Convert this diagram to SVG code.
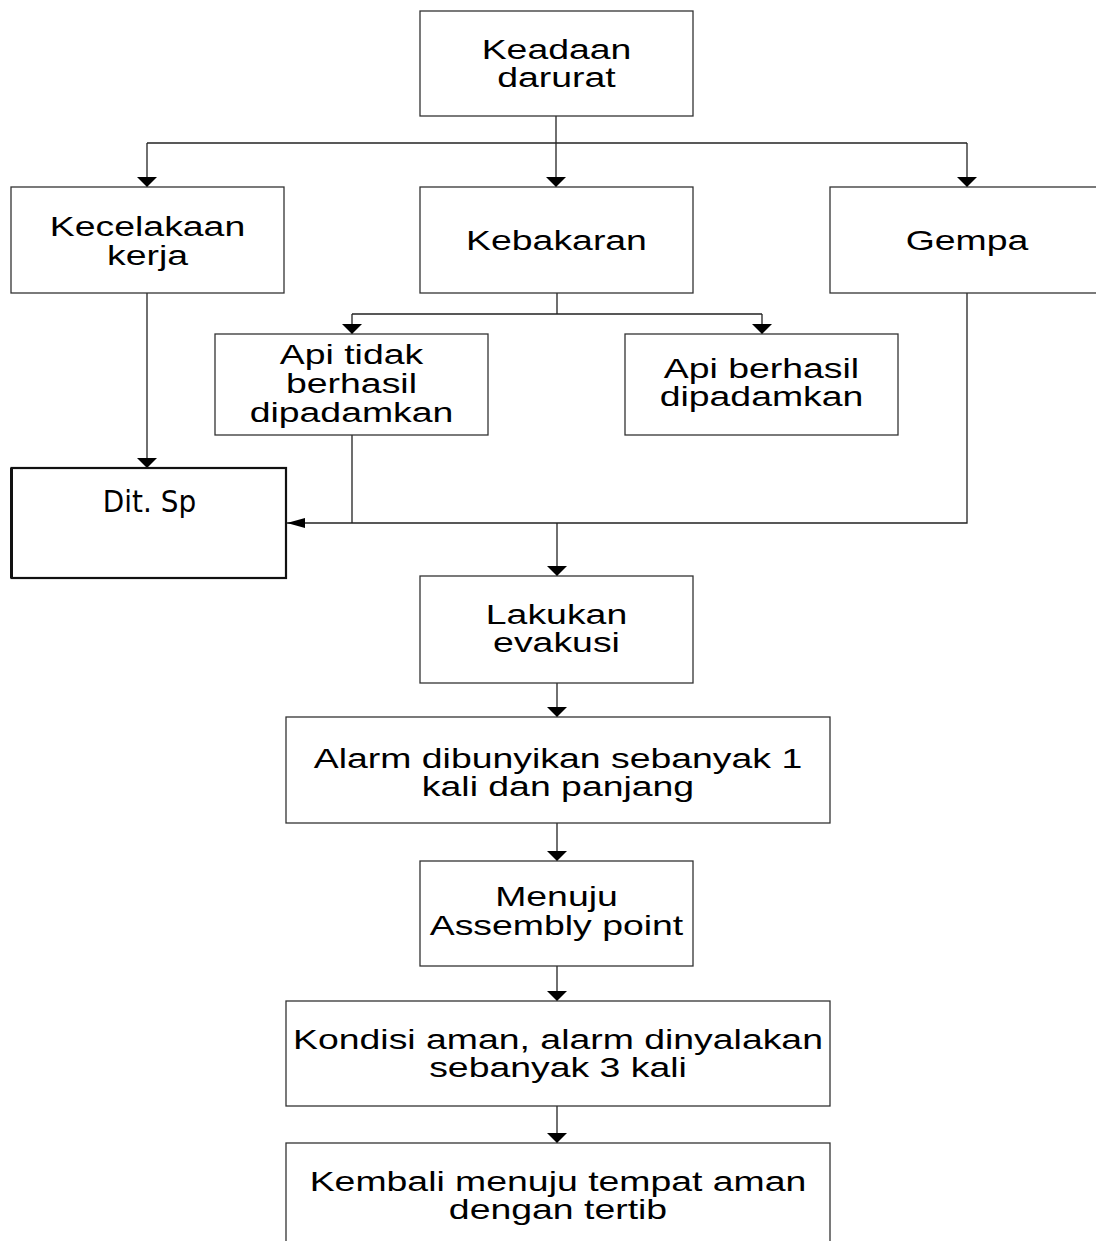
<svg xmlns="http://www.w3.org/2000/svg" width="1096" height="1241" viewBox="0 0 1096 1241">
<style>
.box{fill:#fff;stroke:#333;stroke-width:1.3}
.bold{fill:#fff;stroke:#111;stroke-width:2.2}
.lbl{font-family:"Liberation Sans",Arial,Helvetica,sans-serif;fill:#000;text-anchor:middle;font-size:27.5px}
.dit{font-family:"DejaVu Sans Condensed","DejaVu Sans",Verdana,sans-serif;fill:#000;text-anchor:middle;font-size:31px}
.con{fill:none;stroke:#222;stroke-width:1.3}
</style>
<defs>
<marker id="ad" viewBox="0 0 10 20" refX="10" refY="10" markerWidth="10" markerHeight="20" markerUnits="userSpaceOnUse" orient="auto"><path d="M0,0 L10,10 L0,20 z" fill="#000"/></marker>
<marker id="al" viewBox="0 0 18 10" refX="18" refY="5" markerWidth="18" markerHeight="10" markerUnits="userSpaceOnUse" orient="auto"><path d="M0,0 L18,5 L0,10 z" fill="#000"/></marker>
</defs>
<rect width="1096" height="1241" fill="#fff"/>
<g id="connectors">
<path class="con" d="M556,116 V143"/>
<path class="con" d="M147,143 H967"/>
<path class="con" d="M147,143 V187" marker-end="url(#ad)"/>
<path class="con" d="M556,143 V187" marker-end="url(#ad)"/>
<path class="con" d="M967,143 V187" marker-end="url(#ad)"/>
<path class="con" d="M557,293 V314 M352,314 H762"/>
<path class="con" d="M352,314 V334" marker-end="url(#ad)"/>
<path class="con" d="M762,314 V334" marker-end="url(#ad)"/>
<path class="con" d="M147,293 V468" marker-end="url(#ad)"/>
<path class="con" d="M352,435 V523 M967,293 V523 H352"/>
<path class="con" d="M352,523 H287" marker-end="url(#al)"/>
<path class="con" d="M557,523 V576" marker-end="url(#ad)"/>
<path class="con" d="M557,683 V717" marker-end="url(#ad)"/>
<path class="con" d="M557,823 V861" marker-end="url(#ad)"/>
<path class="con" d="M557,966 V1001" marker-end="url(#ad)"/>
<path class="con" d="M557,1106 V1143" marker-end="url(#ad)"/>
</g>
<g id="keadaan">
<rect class="box" x="420" y="11" width="273" height="105"/>
<text class="lbl" transform="translate(556.5,58.5) scale(1.36,1)"><tspan x="0" y="0">Keadaan</tspan><tspan x="0" y="29">darurat</tspan></text>
</g>
<g id="kecelakaan">
<rect class="box" x="11" y="187" width="273" height="106"/>
<text class="lbl" transform="translate(147.5,235.5) scale(1.36,1)"><tspan x="0" y="0">Kecelakaan</tspan><tspan x="0" y="29.5">kerja</tspan></text>
</g>
<g id="kebakaran">
<rect class="box" x="420" y="187" width="273" height="106"/>
<text class="lbl" transform="translate(556.5,249.5) scale(1.36,1)">Kebakaran</text>
</g>
<g id="gempa">
<rect class="box" x="830" y="187" width="274" height="106"/>
<text class="lbl" transform="translate(967,249.5) scale(1.36,1)">Gempa</text>
</g>
<g id="api-tidak">
<rect class="box" x="215" y="334" width="273" height="101"/>
<text class="lbl" transform="translate(351.5,363.5) scale(1.36,1)"><tspan x="0" y="0">Api tidak</tspan><tspan x="0" y="29.5">berhasil</tspan><tspan x="0" y="59">dipadamkan</tspan></text>
</g>
<g id="api-berhasil">
<rect class="box" x="625" y="334" width="273" height="101"/>
<text class="lbl" transform="translate(761.5,377.5) scale(1.36,1)"><tspan x="0" y="0">Api berhasil</tspan><tspan x="0" y="28.5">dipadamkan</tspan></text>
</g>
<g id="dit-sp">
<rect class="bold" x="11.5" y="468" width="274.5" height="110"/>
<line x1="11.5" y1="468" x2="11.5" y2="578" stroke="#111" stroke-width="3"/>
<text class="dit" x="149.5" y="511.5">Dit. Sp</text>
</g>
<g id="lakukan">
<rect class="box" x="420" y="576" width="273" height="107"/>
<text class="lbl" transform="translate(556.5,623.5) scale(1.36,1)"><tspan x="0" y="0">Lakukan</tspan><tspan x="0" y="29">evakusi</tspan></text>
</g>
<g id="alarm">
<rect class="box" x="286" y="717" width="544" height="106"/>
<text class="lbl" transform="translate(558,767.5) scale(1.36,1)"><tspan x="0" y="0">Alarm dibunyikan sebanyak 1</tspan><tspan x="0" y="29">kali dan panjang</tspan></text>
</g>
<g id="menuju">
<rect class="box" x="420" y="861" width="273" height="105"/>
<text class="lbl" transform="translate(556.5,906) scale(1.36,1)"><tspan x="0" y="0">Menuju</tspan><tspan x="0" y="29">Assembly point</tspan></text>
</g>
<g id="kondisi">
<rect class="box" x="286" y="1001" width="544" height="105"/>
<text class="lbl" transform="translate(558,1048.5) scale(1.36,1)"><tspan x="0" y="0">Kondisi aman, alarm dinyalakan</tspan><tspan x="0" y="29">sebanyak 3 kali</tspan></text>
</g>
<g id="kembali">
<rect class="box" x="286" y="1143" width="544" height="120"/>
<text class="lbl" transform="translate(558,1190.5) scale(1.36,1)"><tspan x="0" y="0">Kembali menuju tempat aman</tspan><tspan x="0" y="29">dengan tertib</tspan></text>
</g>
</svg>
